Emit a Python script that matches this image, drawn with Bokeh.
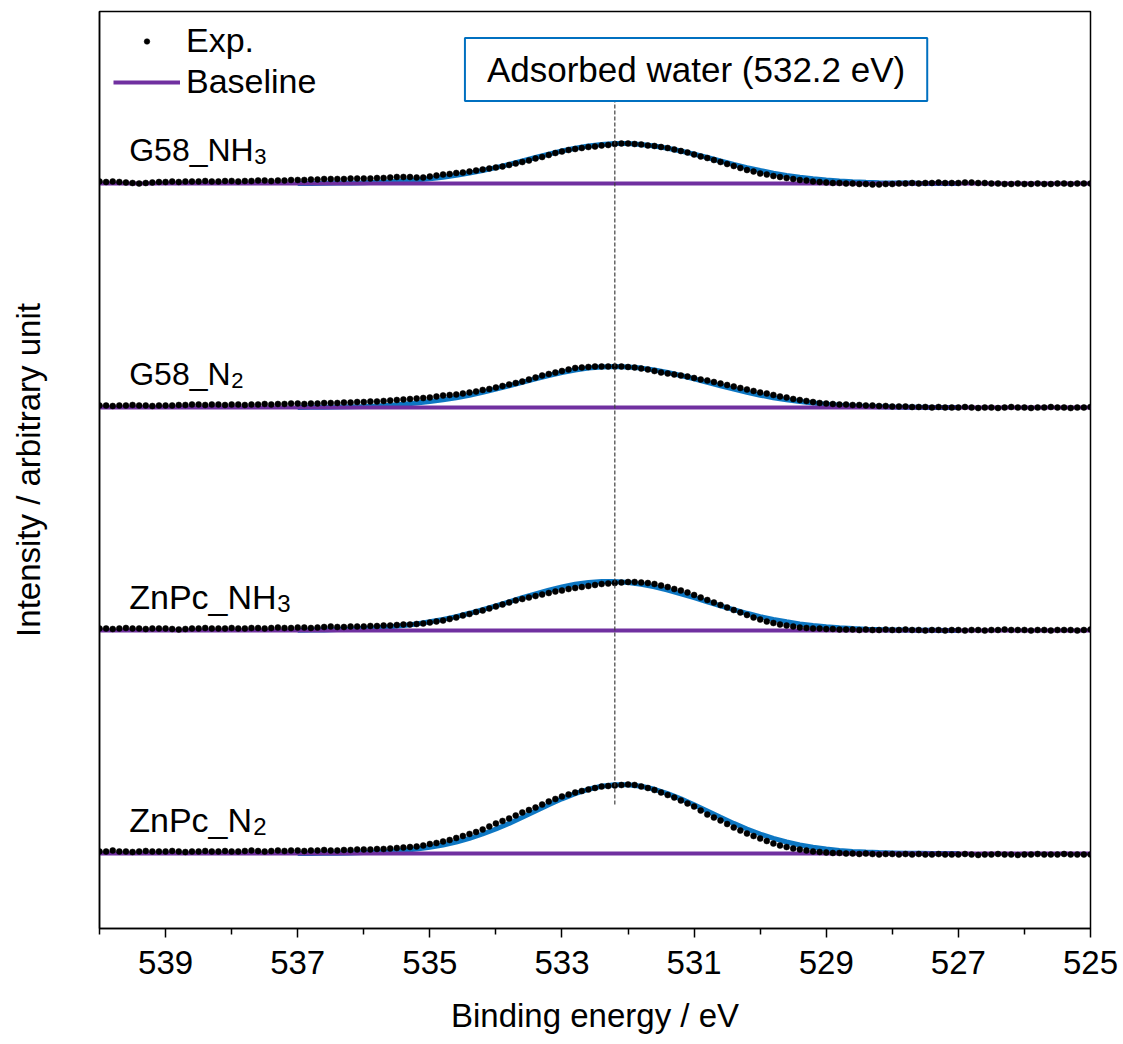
import numpy as np
from bokeh.plotting import figure
from bokeh.models import Range1d, FixedTicker, Label, Legend, LegendItem
from bokeh.embed import file_html
from bokeh.resources import INLINE
from bokeh.core.properties import value

FONT = "Liberation Sans"

# ---------------- data ----------------
# measurement grid (binding energy, eV), 0.1 eV steps, and fit grid (0.2 eV steps)
energy = np.round(np.linspace(540.0, 525.0, 151), 1)
fit_energy = np.round(np.linspace(537.0, 527.0, 51), 1)

major_ticks = [539, 537, 535, 533, 531, 529, 527, 525]
minor_ticks = [540, 538, 536, 534, 532, 530, 528, 526]

water_energy = 532.2

# stacking offsets (arbitrary intensity units) of each spectrum's baseline
baseline_g58_nh3 = 745
baseline_g58_n2 = 521
baseline_znpc_nh3 = 298
baseline_znpc_n2 = 75

# experimental intensities above baseline (540.0 -> 525.0 eV)
exp_g58_nh3 = [
    2, 1.5, 2, 1.5, 1, 0.5, 0, 0.5, 1, 1.5,
    1.5, 2, 1.5, 2, 2, 2, 2.5, 2, 2, 2.5,
    2.5, 2, 2.5, 2.5, 3, 3, 2.5, 3, 3, 3.5,
    3.5, 3.5, 4, 4, 4.5, 4.5, 4.5, 4.5, 5, 5,
    5, 5, 5.5, 5.5, 6, 6.5, 6.5, 6.5, 6, 6,
    7, 8, 9, 9.5, 10.5, 11, 12, 13, 14, 15,
    16, 17, 18.5, 20, 21.5, 23, 25, 26.5, 28.5, 30.5,
    32, 33.5, 34.5, 35.5, 36.5, 37, 38, 38.5, 39.5, 40,
    40, 39.5, 39, 38, 37.5, 36.5, 35.5, 34, 32.5, 31,
    29, 27, 25.5, 23.5, 21.5, 19.5, 17.5, 15.5, 13.5, 12,
    10, 9, 7.5, 6.5, 5.5, 4.5, 3.5, 3, 2, 1.5,
    1, 0.5, 0.5, 0, 0, -0.5, -0.5, -1, -1, -0.5,
    -0.5, 0, 0, 0.5, 0, 0.5, 0.5, 1, 0.5, 0.5,
    0.5, 1, 1, 0.5, 0.5, 0, 0, -0.5, -0.5, 0,
    -0.5, -0.5, 0, -0.5, -0.5, 0, 0, -0.5, 0, 0, 0]

exp_g58_n2 = [
    2, 2, 1.5, 2, 2, 2.5, 2, 2, 1.5, 2,
    2, 2, 2.5, 2.5, 3, 3, 2.5, 3, 3, 2.5,
    3, 3, 2.5, 3, 3, 3.5, 3, 3.5, 3.5, 4,
    4, 3.5, 4, 4, 4.5, 4.5, 4.5, 5, 5, 5.5,
    5.5, 6, 6, 6.5, 7, 7.5, 8, 8.5, 9, 9.5,
    10, 11, 12, 12.5, 13, 14, 15, 16, 17.5, 18.5,
    20, 21.5, 23, 24.5, 26, 28, 30, 32, 33.5, 35,
    36.5, 38, 39.5, 40, 40.5, 41, 41, 41, 41, 41,
    40.5, 40, 39, 38, 36.5, 35, 34, 33, 32, 31,
    29.5, 28, 27, 25.5, 24, 22.5, 21, 19.5, 18, 16.5,
    15, 14, 12.5, 11, 10, 8.5, 7.5, 6.5, 5.5, 4.5,
    4, 3.5, 3, 3, 2.5, 2.5, 2, 2, 1.5, 1.5,
    1, 1, 1, 0.5, 0.5, 0.5, 0, 0.5, 0, 0,
    0, 0.5, 0, -0.5, 0, 0, -0.5, 0, 0.5, 0,
    0, -0.5, 0, 0, 0.5, 0, 0, -0.5, 0, 0, 0.5]

exp_znpc_nh3 = [
    2, 2, 1.5, 2, 2.5, 2, 2, 1.5, 2, 2,
    2, 1.5, 1, 1.5, 2, 2, 2.5, 2, 2, 2,
    2.5, 2, 2, 2.5, 2.5, 2, 2.5, 3, 2.5, 2.5,
    3, 3, 2.5, 3, 3.5, 4, 3.5, 3.5, 4, 4,
    4, 4.5, 4.5, 5, 5, 5.5, 6, 6, 6.5, 7,
    8, 9, 10, 11.5, 13, 15, 16.5, 18.5, 20, 22,
    24, 26, 28, 30, 31.5, 33, 34.5, 36, 37.5, 39,
    40, 41.5, 42.5, 43.5, 44.5, 45.5, 46.5, 47, 47.5, 48,
    48.5, 48.5, 48, 47.5, 46.5, 45, 43.5, 41.5, 40, 38,
    35.5, 33, 30.5, 28, 25.5, 23, 20.5, 18, 15.5, 13,
    11, 9, 7.5, 6, 5, 4, 3, 2.5, 2, 2,
    1.5, 1.5, 1, 1, 1, 0.5, 1, 0.5, 0.5, 1,
    0.5, 0.5, 1, 0.5, 0.5, 0, 0.5, 0.5, 0, 0.5,
    0.5, 0, 0.5, 0.5, 0, 0.5, 0.5, 1, 0.5, 0.5,
    0.5, 0, 0.5, 0.5, 0, 0.5, 0.5, 0.5, 0, 0.5, 1]

exp_znpc_n2 = [
    2, 2, 3, 2, 2, 1.5, 2, 2.5, 2, 2,
    2, 2.5, 2, 1.5, 2, 2, 2.5, 2, 2, 2.5,
    2, 2, 2.5, 3, 2.5, 2, 2.5, 3, 2.5, 3,
    3, 2.5, 3, 3, 3.5, 3, 3, 3.5, 3.5, 4,
    4, 4, 4.5, 4.5, 5, 5.5, 6, 6.5, 7, 8,
    9.5, 10.5, 12, 13.5, 15.5, 17.5, 19.5, 21.5, 24, 27,
    30, 32.5, 35, 38, 41, 43.5, 46, 49, 52, 54.5,
    57, 59, 61, 62.5, 64, 65.5, 67, 67.5, 68, 68.5,
    69, 68.5, 67, 65.5, 63.5, 61, 58.5, 56, 53, 50,
    47, 43, 39, 36, 33, 29.5, 26, 23, 20, 17.5,
    15, 12.5, 10, 8, 6.5, 5, 4, 3, 2, 1.5,
    1, 0.5, 0.5, 0, 0, -0.5, 0, -0.5, -1, -0.5,
    -0.5, -1, -0.5, -1, -0.5, -1, -1, -0.5, -1, -1,
    -1, -0.5, -1, -1.5, -1, -1, -0.5, -1, -1, -1.5,
    -1, -1, -0.5, -1, -1, -1, -0.5, -1, -1, -1, -1]

# fitted adsorbed-water component above baseline (537.0 -> 527.0 eV)
fit_g58_nh3 = [
    0.1, 0.1, 0.2, 0.4, 0.5, 0.8, 1.2, 1.8, 2.5, 3.4,
    4.7, 6.2, 8.1, 10.4, 13.0, 15.9, 19.1, 22.5, 26.0, 29.4,
    32.5, 35.3, 37.5, 39.1, 39.9, 39.9, 39.1, 37.5, 35.3, 32.5,
    29.4, 26.0, 22.5, 19.1, 15.9, 13.0, 10.4, 8.1, 6.2, 4.7,
    3.4, 2.5, 1.8, 1.2, 0.8, 0.5, 0.4, 0.2, 0.1, 0.1, 0.0]

fit_g58_n2 = [
    0.1, 0.2, 0.3, 0.5, 0.8, 1.1, 1.6, 2.3, 3.2, 4.4,
    5.9, 7.7, 9.8, 12.3, 15.2, 18.4, 21.7, 25.2, 28.7, 32.0,
    35.0, 37.5, 39.4, 40.6, 41.0, 40.6, 39.4, 37.5, 35.0, 32.0,
    28.7, 25.2, 21.7, 18.4, 15.2, 12.3, 9.8, 7.7, 5.9, 4.4,
    3.2, 2.3, 1.6, 1.1, 0.8, 0.5, 0.3, 0.2, 0.1, 0.1, 0.0]

fit_znpc_nh3 = [
    0.3, 0.4, 0.6, 0.9, 1.3, 1.9, 2.7, 3.7, 5.0, 6.6,
    8.7, 11.1, 13.9, 17.2, 20.8, 24.6, 28.7, 32.8, 36.7, 40.4,
    43.6, 46.2, 48.0, 48.9, 48.9, 48.0, 46.2, 43.6, 40.4, 36.7,
    32.8, 28.7, 24.6, 20.8, 17.2, 13.9, 11.1, 8.7, 6.6, 5.0,
    3.7, 2.7, 1.9, 1.3, 0.9, 0.6, 0.4, 0.3, 0.2, 0.1, 0.1]

fit_znpc_n2 = [
    0.1, 0.1, 0.2, 0.3, 0.6, 0.9, 1.4, 2.0, 3.0, 4.4,
    6.2, 8.5, 11.5, 15.1, 19.5, 24.5, 30.1, 36.2, 42.5, 48.8,
    54.7, 59.9, 64.2, 67.2, 68.8, 68.8, 67.2, 64.2, 59.9, 54.7,
    48.8, 42.5, 36.2, 30.1, 24.5, 19.5, 15.1, 11.5, 8.5, 6.2,
    4.4, 3.0, 2.0, 1.4, 0.9, 0.6, 0.3, 0.2, 0.1, 0.1, 0.0]

sample_main = ["G58_NH", "G58_N", "ZnPc_NH", "ZnPc_N"]
sample_sub = ["3", "2", "3", "2"]
baselines = [baseline_g58_nh3, baseline_g58_n2, baseline_znpc_nh3, baseline_znpc_n2]
exps = [exp_g58_nh3, exp_g58_n2, exp_znpc_nh3, exp_znpc_n2]
fits = [fit_g58_nh3, fit_g58_n2, fit_znpc_nh3, fit_znpc_n2]

# ---------------- figure ----------------
p = figure(width=1123, height=1044,
           x_range=Range1d(540, 525), y_range=Range1d(0, 917),
           output_backend="svg", toolbar_location=None,
           min_border_left=99, min_border_right=33,
           min_border_top=11, min_border_bottom=116)
p.background_fill_color = "white"
p.border_fill_color = "white"
p.outline_line_color = "black"
p.outline_line_width = 1.5
p.xgrid.visible = False
p.ygrid.visible = False

xa = p.xaxis[0]
xa.ticker = FixedTicker(ticks=major_ticks, minor_ticks=minor_ticks)
xa.axis_label = "Binding energy / eV"
xa.axis_label_text_font = FONT
xa.axis_label_text_font_size = "33px"
xa.axis_label_text_font_style = "normal"
xa.axis_label_text_color = "black"
xa.axis_label_standoff = 20
xa.major_label_text_font = FONT
xa.major_label_text_font_size = "33px"
xa.major_label_text_color = "black"
xa.major_label_standoff = 13
xa.axis_line_color = "black"
xa.axis_line_width = 1.5
xa.major_tick_line_color = "black"
xa.major_tick_line_width = 1.5
xa.major_tick_in = 0
xa.major_tick_out = 9
xa.minor_tick_line_color = "black"
xa.minor_tick_line_width = 1.5
xa.minor_tick_in = 0
xa.minor_tick_out = 6

ya = p.yaxis[0]
ya.ticker = FixedTicker(ticks=[])
ya.axis_label = "Intensity / arbitrary unit"
ya.axis_label_text_font = FONT
ya.axis_label_text_font_size = "33px"
ya.axis_label_text_font_style = "normal"
ya.axis_label_text_color = "black"
ya.axis_label_standoff = 53
ya.major_tick_line_color = None
ya.minor_tick_line_color = None
ya.major_tick_in = 0
ya.major_tick_out = 0
ya.minor_tick_out = 0
ya.major_label_text_font_size = "0px"
ya.axis_line_color = "black"
ya.axis_line_width = 1.5

BLUE = "#0070C0"
PURPLE = "#7030A0"

fit_rs, base_rs, dot_rs = [], [], []
for lvl, fit in zip(baselines, fits):
    fit_rs.append(p.line(fit_energy, lvl + np.array(fit), line_color=BLUE,
                         line_width=5, line_alpha=0.95))
for lvl in baselines:
    base_rs.append(p.line(energy, np.full(len(energy), lvl), line_color=PURPLE,
                          line_width=4))
for lvl, ex in zip(baselines, exps):
    dot_rs.append(p.scatter(energy, lvl + np.array(ex), size=6,
                            fill_color="black", line_color="black", line_width=0.5))

# marker line for adsorbed water
p.segment(x0=[water_energy], y0=[124], x1=[water_energy], y1=[827],
          line_color="#404040", line_width=1.2, line_dash="4 2")

box = Label(x=530.97, y=859, text="Adsorbed water (532.2 eV)",
            text_align="center", text_baseline="middle",
            text_font=FONT, text_font_size="35px", text_color="black",
            border_line_color=BLUE, border_line_width=2,
            background_fill_color="white",
            padding=(22, 22, 12, 12))
p.add_layout(box)

# sample labels with subscripts
label_x = [539.55] * 4
label_y = [b + 34 for b in baselines]
label_sizes = ["32px", "32px", "34px", "34px"]
sub_sizes = ["22px", "22px", "24px", "24px"]
sub_offsets = [125, 102, 148, 124]
p.text(x=label_x, y=label_y, text=sample_main, text_font=value(FONT),
       text_font_size=label_sizes, text_color="black",
       text_align="left", text_baseline="alphabetic")
p.text(x=label_x, y=label_y, text=sample_sub, x_offset=sub_offsets, y_offset=7,
       text_font=value(FONT), text_font_size=sub_sizes, text_color="black",
       text_align="left", text_baseline="alphabetic")

legend = Legend(items=[LegendItem(label="Exp.", renderers=[dot_rs[0]]),
                       LegendItem(label="Baseline", renderers=[base_rs[0]])],
                location=(14, 827), orientation="vertical",
                glyph_width=67, glyph_height=14, label_height=38,
                label_standoff=6, spacing=2, padding=0, margin=0,
                border_line_color=None, background_fill_alpha=0,
                label_text_font=FONT, label_text_font_size="34px",
                label_text_color="black")
p.add_layout(legend)

open("out.html", "w").write(file_html(p, INLINE))
